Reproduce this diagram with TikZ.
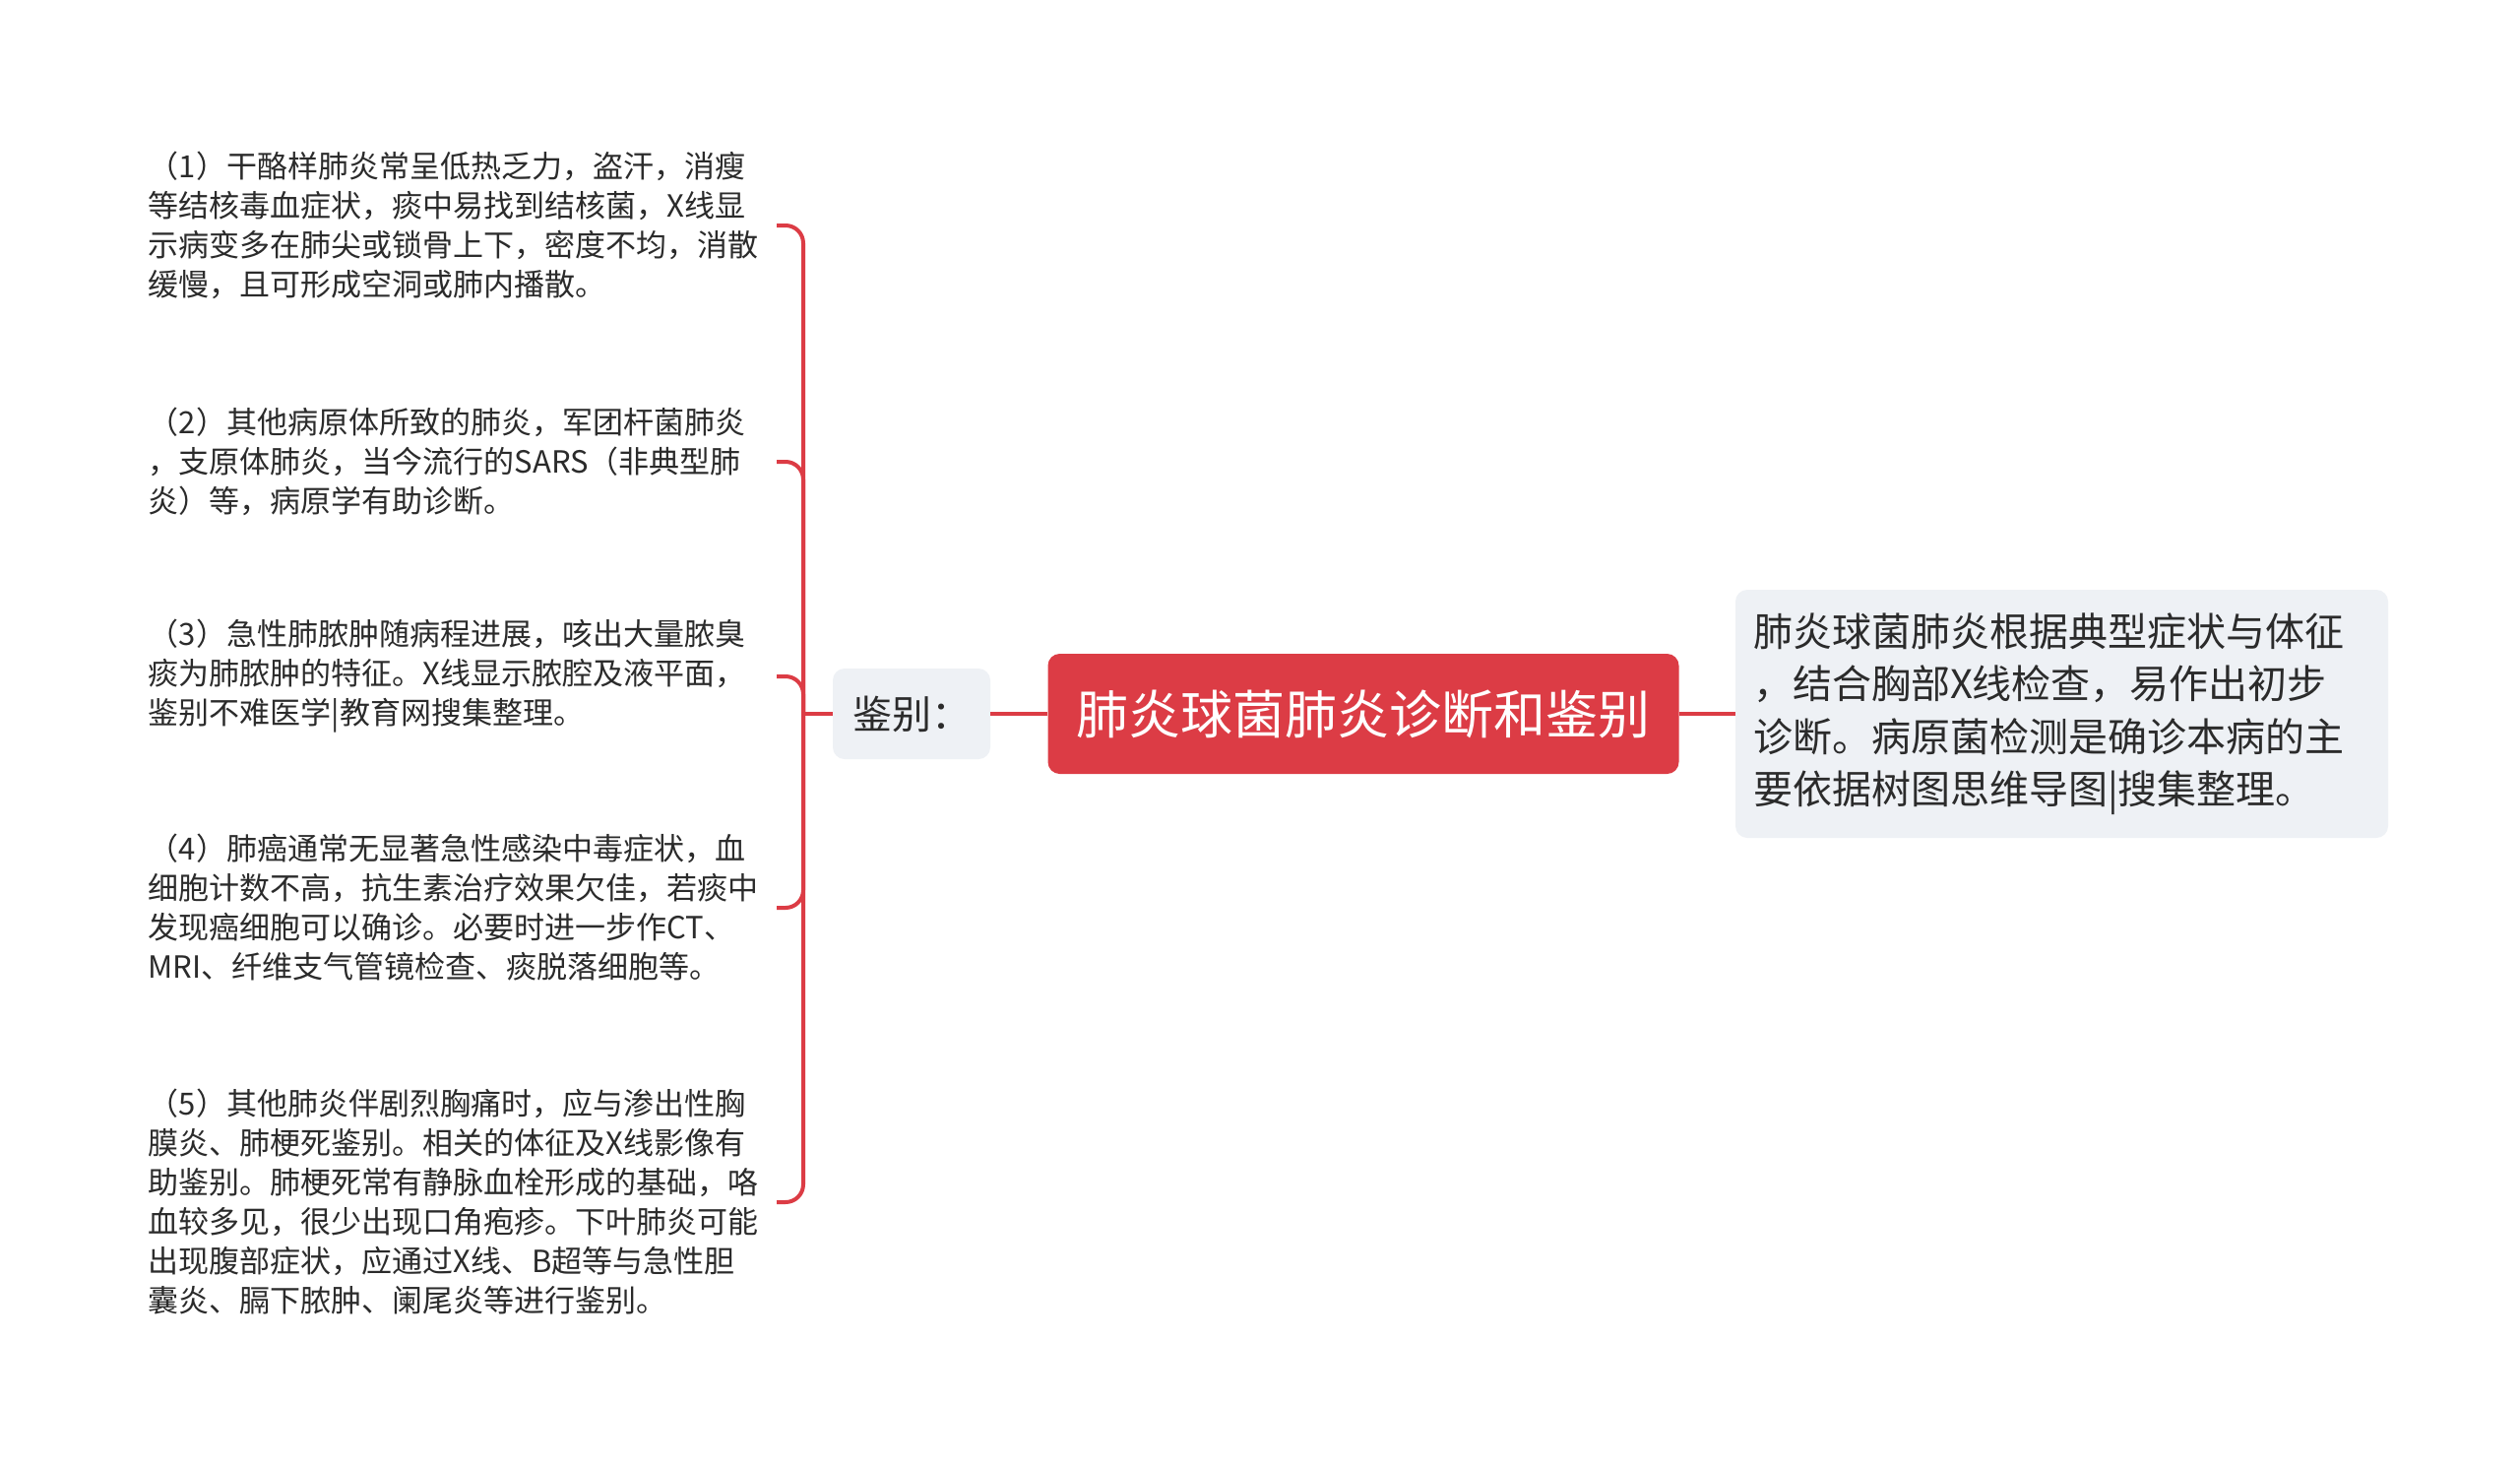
\documentclass[tikz,border=0pt]{standalone}
\usepackage{fontspec}
\setmainfont{Noto Sans CJK SC}
\definecolor{mred}{HTML}{DC3C45}
\definecolor{mgray}{HTML}{EEF1F5}
\definecolor{txt}{HTML}{2B2B2B}
\begin{document}
\begin{tikzpicture}[x=1pt,y=-1pt,
  conn/.style={draw=mred, line width=4pt},
  leaf/.style={anchor=east, inner sep=0pt, text width=638pt, align=left,
    font=\fontsize{31}{40}\selectfont, text=txt},
  graybox/.style={fill=mgray, rounded corners=12pt, inner sep=0pt, text=txt,
    font=\fontsize{40}{53.5}\selectfont},
  rootbox/.style={fill=mred, rounded corners=12pt, inner sep=0pt, text=white,
    font=\fontsize{53}{64}\selectfont, minimum width=641pt, minimum height=122pt}]
\useasboundingbox[fill=white] (0,0) rectangle (2560,1491);

\node[rootbox] (c) at (1385,725) {肺炎球菌肺炎诊断和鉴别};
\node[graybox, minimum width=160pt, minimum height=92pt] (jb) at (926,725) {鉴别：};
\node[graybox, minimum width=663pt, minimum height=252pt, text width=627pt, align=left] (r) at (2094.5,725)
  {肺炎球菌肺炎根据典型症状与体征\\，结合胸部X线检查，易作出初步\\诊断。病原菌检测是确诊本病的主\\要依据树图思维导图|搜集整理。};

\node[leaf] (l1) at (789,229) {（1）干酪样肺炎常呈低热乏力，盗汗，消瘦\\等结核毒血症状，痰中易找到结核菌，X线显\\示病变多在肺尖或锁骨上下，密度不均，消散\\缓慢，且可形成空洞或肺内播散。};
\node[leaf] (l2) at (789,469) {（2）其他病原体所致的肺炎，军团杆菌肺炎\\，支原体肺炎，当今流行的SARS（非典型肺\\炎）等，病原学有助诊断。};
\node[leaf] (l3) at (789,687) {（3）急性肺脓肿随病程进展，咳出大量脓臭\\痰为肺脓肿的特征。X线显示脓腔及液平面，\\鉴别不难医学|教育网搜集整理。};
\node[leaf] (l4) at (789,922) {（4）肺癌通常无显著急性感染中毒症状，血\\细胞计数不高，抗生素治疗效果欠佳，若痰中\\发现癌细胞可以确诊。必要时进一步作CT、\\MRI、纤维支气管镜检查、痰脱落细胞等。};
\node[leaf] (l5) at (789,1221) {（5）其他肺炎伴剧烈胸痛时，应与渗出性胸\\膜炎、肺梗死鉴别。相关的体征及X线影像有\\助鉴别。肺梗死常有静脉血栓形成的基础，咯\\血较多见，很少出现口角疱疹。下叶肺炎可能\\出现腹部症状，应通过X线、B超等与急性胆\\囊炎、膈下脓肿、阑尾炎等进行鉴别。};

\coordinate (tj) at (816,725);
\draw[conn] (c.west) -- (jb.east);
\draw[conn] (c.east) -- (r.west);
\draw[conn] (jb.west) -- (tj);
\foreach \n in {l1,l2,l3,l4,l5}
  \draw[conn, rounded corners=18pt] (tj) |- (\n.east);
\end{tikzpicture}
\end{document}
